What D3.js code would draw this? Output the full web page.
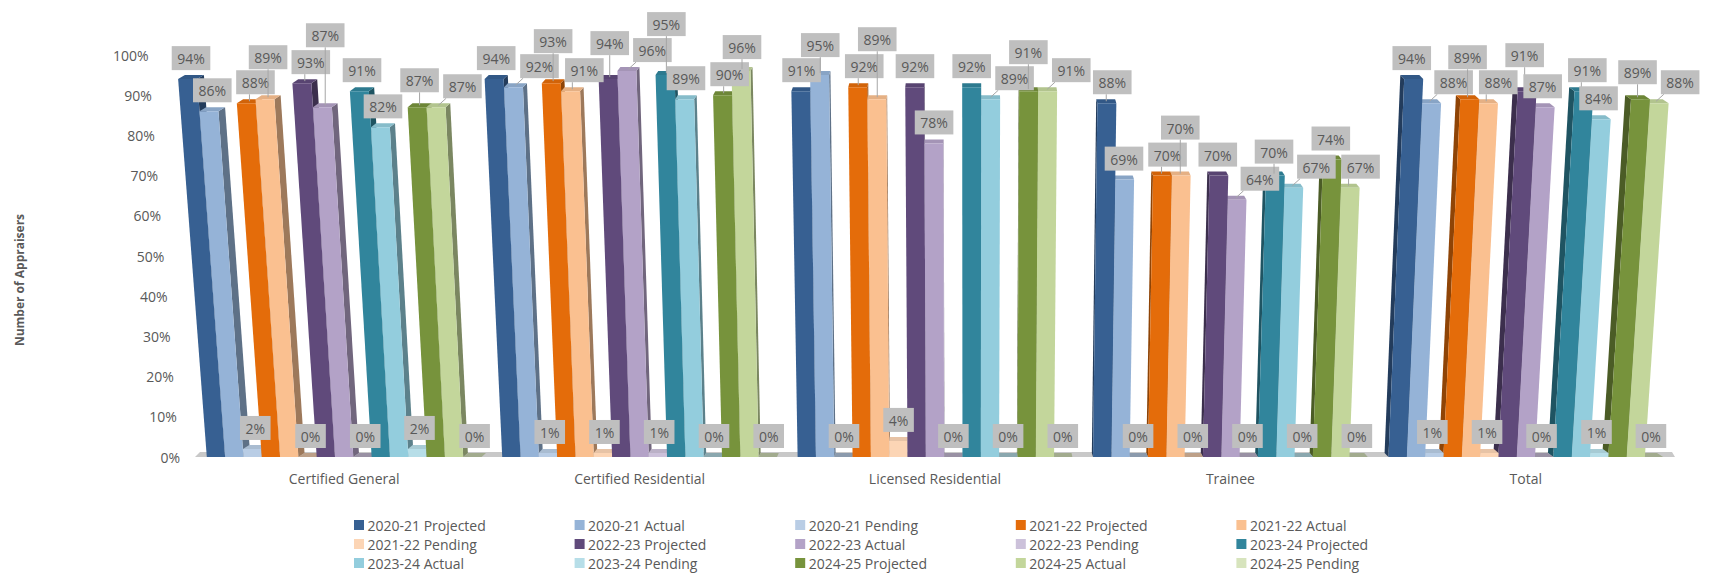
<!DOCTYPE html>
<html><head><meta charset="utf-8">
<script src="https://cdn.jsdelivr.net/npm/d3@7"></script>
<style>body{margin:0;background:#fff;} svg{display:block;font-family:"Open Sans",sans-serif;}</style>
</head><body><svg id="c" width="1716" height="574"></svg>
<script>
const categories = ["Certified General","Certified Residential","Licensed Residential","Trainee","Total"];
const seriesNames = ["2020-21 Projected","2020-21 Actual","2020-21 Pending",
  "2021-22 Projected","2021-22 Actual","2021-22 Pending",
  "2022-23 Projected","2022-23 Actual","2022-23 Pending",
  "2023-24 Projected","2023-24 Actual","2023-24 Pending",
  "2024-25 Projected","2024-25 Actual","2024-25 Pending"];
const seriesColors = ["#376092","#95b3d7","#b9cde5",
  "#e46c0a","#fac090","#fcd5b5",
  "#604a7b","#b3a2c7","#ccc1da",
  "#31859c","#93cddd","#b7dee8",
  "#77933c","#c3d69b","#d7e4bd"];
// values (%) per category, in series order
const certifiedGeneral     = [94,86,2, 88,89,0, 93,87,0, 91,82,2, 87,87,0];
const certifiedResidential = [94,92,1, 93,91,1, 94,96,1, 95,89,0, 90,96,0];
const licensedResidential  = [91,95,0, 92,89,4, 92,78,0, 92,89,0, 91,91,0];
const trainee              = [88,69,0, 70,70,0, 70,64,0, 70,67,0, 74,67,0];
const total                = [94,88,1, 89,88,1, 91,87,0, 91,84,1, 89,88,0];
const yTicks = [0,10,20,30,40,50,60,70,80,90,100];
const yTickLabels = ["0%","10%","20%","30%","40%","50%","60%","70%","80%","90%","100%"];
const yTitle = "Number of Appraisers";

const valuesByCategory = [certifiedGeneral, certifiedResidential, licensedResidential, trainee, total];

const svg = d3.select("#c");
const y = d3.scaleLinear().domain([0,100]).range([457,55]);
const x0 = d3.scaleBand().domain(categories).range([195,1675]).paddingInner(0.07).paddingOuter(0.04);
const x1 = d3.scaleBand().domain(seriesNames).range([0, x0.bandwidth()]);
const VX = 970, KP = 0.04;
const px = (x, v) => x + (x - VX) * KP * v / 100;
const textCol = "#595959";

// floor
svg.append("polygon")
  .attr("points", [[x0.range()[0], y(0)], [x0.range()[1], y(0)], [x0.range()[1]-3, y(0)-5], [x0.range()[0]+5, y(0)-5]].map(p=>p.join(",")).join(" "))
  .attr("fill", "#c8c8c8");

// bars geometry
const bars = [];
categories.forEach((cat, ci) => {
  seriesNames.forEach((s, si) => {
    const v = valuesByCategory[ci][si];
    const xb0 = x0(cat) + x1(s), xb1 = xb0 + x1.bandwidth();
    const xt0 = px(xb0, v), xt1 = px(xb1, v);
    const yb = y(0), yt = y(v);
    const xc = (xb0 + xb1) / 2;
    const ddx = (VX - xc) * 0.009, ddy = 4;
    bars.push({ci, si, v, xb0, xb1, xt0, xt1, yb, yt, xc, ddx, ddy, color: seriesColors[si]});
  });
});

const pts = a => a.map(p => p[0].toFixed(2)+","+p[1].toFixed(2)).join(" ");
const order = bars.slice().sort((a,b) => Math.abs(b.xc - VX) - Math.abs(a.xc - VX));
const gBars = svg.append("g");
order.forEach(b => {
  const g = gBars.append("g");
  let side;
  if (b.ddx >= 0) side = [[b.xb1,b.yb],[b.xb1+b.ddx,b.yb-b.ddy],[b.xt1+b.ddx,b.yt-b.ddy],[b.xt1,b.yt]];
  else side = [[b.xb0,b.yb],[b.xb0+b.ddx,b.yb-b.ddy],[b.xt0+b.ddx,b.yt-b.ddy],[b.xt0,b.yt]];
  g.append("polygon").attr("points", pts(side)).attr("fill", d3.color(b.color).darker(1.3));
  g.append("polygon").attr("points", pts([[b.xt0,b.yt],[b.xt1,b.yt],[b.xt1+b.ddx,b.yt-b.ddy],[b.xt0+b.ddx,b.yt-b.ddy]]))
    .attr("fill", d3.color(b.color).darker(b.v === 0 ? 0.8 : 0.25));
  g.append("polygon").attr("points", pts([[b.xb0,b.yb],[b.xb1,b.yb],[b.xt1,b.yt],[b.xt0,b.yt]])).attr("fill", b.color);
});

// data labels with simple collision avoidance
const ctx = document.createElement("canvas").getContext("2d");
ctx.font = "14px 'Open Sans'";
const placed = [];
const cands = [];
for (let dy = 0; dy <= 150; dy += 3) for (const dx of [0,6,-6,12,-12,18,-18,24,-24]) cands.push({dx, dy, c: dy + Math.abs(dx) * (dx > 0 ? 1.1 : 1.4)});
cands.sort((a,b) => a.c - b.c);
const overlaps = (a, b) => a.x < b.x + b.w + 1 && b.x < a.x + a.w + 1 && a.y < b.y + b.h + 1 && b.y < a.y + a.h + 1;
const gLab = svg.append("g");
bars.forEach(b => {
  const txt = b.v + "%";
  const tw = ctx.measureText(txt).width;
  const bw = tw + 11, bh = 24;
  const ax = (b.xt0 + b.xt1) / 2 + b.ddx / 2, ay = b.yt - b.ddy / 2;
  const bx0 = ax - bw / 2, by0 = ay - 7 - bh;
  let box = null, cd = null;
  for (const c of cands) {
    const bb = {x: bx0 + c.dx, y: by0 - c.dy, w: bw, h: bh};
    if (bb.y < 2) continue;
    if (!placed.some(p => overlaps(p, bb))) { box = bb; cd = c; break; }
  }
  if (!box) { box = {x: bx0, y: by0, w: bw, h: bh}; cd = {dx:0, dy:0}; }
  placed.push(box);
  if (cd.dx !== 0 || cd.dy > 0) {
    const lx = Math.max(box.x + 3, Math.min(box.x + box.w - 3, ax));
    gLab.append("line").attr("x1", ax).attr("y1", ay).attr("x2", lx).attr("y2", box.y + box.h)
      .attr("stroke", "#a6a6a6").attr("stroke-width", 1);
  }
  gLab.append("rect").attr("x", box.x).attr("y", box.y).attr("width", box.w).attr("height", box.h).attr("fill", "#bfbfbf");
  gLab.append("text").attr("x", box.x + box.w / 2).attr("y", box.y + box.h / 2 + 0.5)
    .attr("text-anchor", "middle").attr("dominant-baseline", "central")
    .attr("font-size", 14).attr("fill", textCol).text(txt);
});

// y axis labels (perspective)
const axisX = 187;
svg.append("g").selectAll("text").data(yTicks).join("text")
  .attr("x", d => px(axisX, d) - 7).attr("y", d => y(d))
  .attr("text-anchor", "end").attr("dominant-baseline", "central")
  .attr("font-size", 14).attr("fill", textCol)
  .text((d, i) => yTickLabels[i]);

svg.append("text").attr("transform", "translate(19,280) rotate(-90)")
  .attr("text-anchor", "middle").attr("dominant-baseline", "central")
  .attr("font-size", 12).attr("font-weight", "bold").attr("fill", textCol).text(yTitle);

// category labels
svg.append("g").selectAll("text").data(categories).join("text")
  .attr("x", d => x0(d) + x0.bandwidth() / 2).attr("y", 478)
  .attr("text-anchor", "middle").attr("dominant-baseline", "central")
  .attr("font-size", 14).attr("fill", textCol).text(d => d);

// legend
const lg = svg.append("g");
seriesNames.forEach((s, i) => {
  const col = i % 5, row = Math.floor(i / 5);
  const lx = 354 + col * 220.6, ly = 525 + row * 19;
  lg.append("rect").attr("x", lx).attr("y", ly - 5).attr("width", 10).attr("height", 10).attr("fill", seriesColors[i]);
  lg.append("text").attr("x", lx + 13.5).attr("y", ly).attr("dominant-baseline", "central")
    .attr("font-size", 14).attr("fill", textCol).text(s);
});
</script></body></html>
